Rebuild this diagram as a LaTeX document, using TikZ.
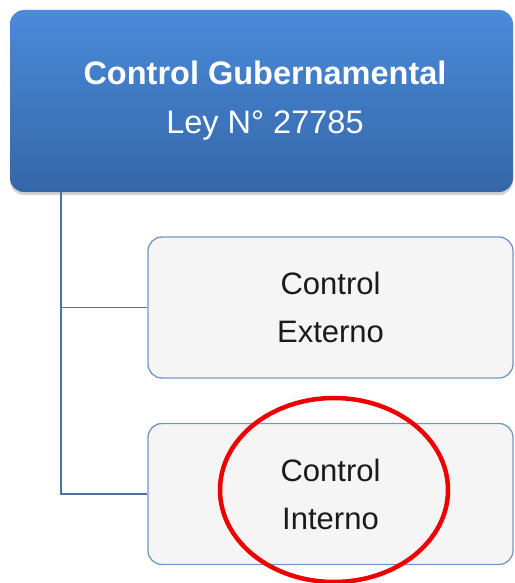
\documentclass[tikz,border=0pt]{standalone}
\usepackage{fontspec}
\setmainfont{Liberation Sans}
\usetikzlibrary{shapes.geometric,shadows}
\definecolor{topA}{HTML}{4A8BDA}
\definecolor{topB}{HTML}{3566A8}
\definecolor{boxfill}{HTML}{F5F5F5}
\definecolor{boxedge}{HTML}{7396C8}
\definecolor{linkc}{HTML}{4D70A6}
\definecolor{ringc}{HTML}{EE0000}
\definecolor{txt}{HTML}{1A1A1A}
\tikzset{
  headbox/.style={rounded corners=14pt, top color=topA, bottom color=topB, draw=none,
    minimum width=503pt, minimum height=182pt, inner sep=0pt, align=center,
    text=white, font=\fontsize{32.5}{49}\selectfont,
    drop shadow={shadow xshift=0pt, shadow yshift=-3pt, opacity=0.35}},
  subbox/.style={rounded corners=14pt, fill=boxfill, draw=boxedge, line width=1.3pt,
    minimum width=365pt, minimum height=141pt, inner sep=0pt, align=center,
    text=txt, font=\fontsize{31}{48}\selectfont},
  link/.style={draw=linkc, line width=1.6pt},
  ring/.style={ellipse, draw=ringc, line width=4.5pt, minimum width=228pt, minimum height=184pt, inner sep=0pt}
}
\begin{document}
\begin{tikzpicture}[x=1pt,y=-1pt]
\useasboundingbox (0,0) rectangle (514,583);
\node[subbox] (ext) at (330.5,307.5) {Control\\Externo};
\node[subbox] (int) at (330.5,494) {Control\\Interno};
\node[headbox] (top) at (261.5,101) {\hspace*{7pt}\raisebox{-2pt}{\textbf{Control Gubernamental}}\\\hspace*{7pt}\raisebox{-2pt}{Ley N° 27785}};
\coordinate (trunk) at (61,192);
\draw[link] (top.south -| trunk) -- (trunk |- int.west) -- (int.west);
\draw[link] (trunk |- ext.west) -- (ext.west);
\node[ring] (mark) at (334,490) {};
\end{tikzpicture}
\end{document}
